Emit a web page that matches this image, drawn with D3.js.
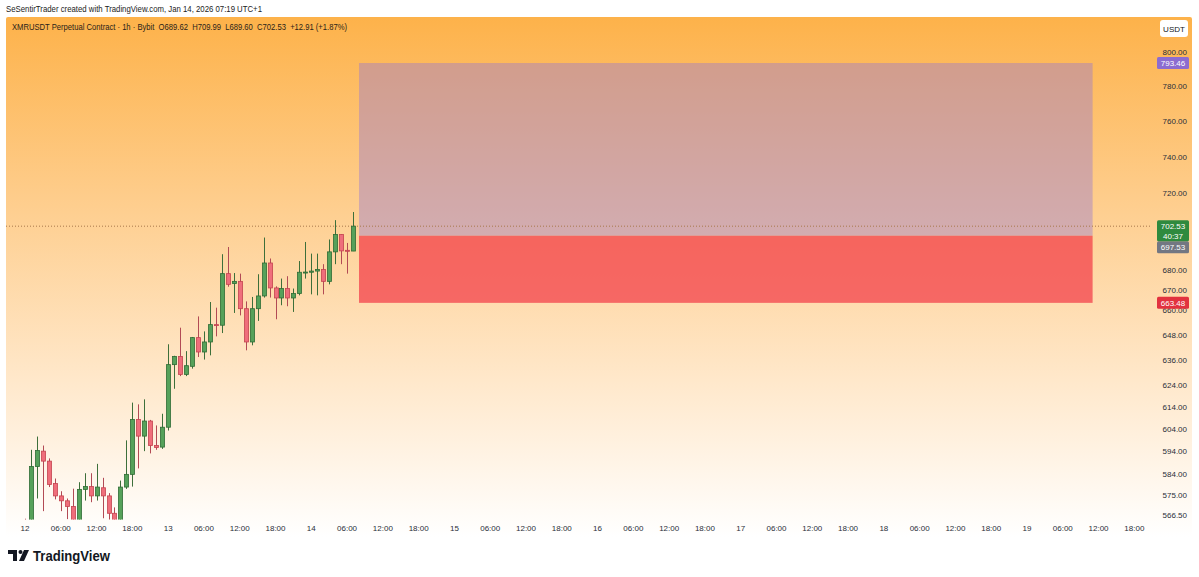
<!DOCTYPE html>
<html>
<head>
<meta charset="utf-8">
<script src="https://cdn.jsdelivr.net/npm/d3@7"></script>
<style>
  body { margin: 0; background: #fff; }
  svg { display: block; font-family: "Liberation Sans", Arial, sans-serif; }
</style>
</head>
<body>
<svg id="chart"></svg>
<script>
const svgWidth = 1199, svgHeight = 577

// hourly candles starting Jan 12 2026 00:00 (UTC+1 shown as-is)
const startHour = Date.UTC(2026, 0, 12, 0)
const opens  = [561, 560, 587.2, 594.0, 589.6, 579.8, 574.5, 572.4, 570.0, 563, 577.3, 578.5, 574.5, 578.0, 574.5, 567.1,
  563, 578.3, 583.8, 608.2, 600.7, 607.5, 596.5, 595.8, 604.7, 633.6, 637.5, 629.0, 632.8, 646.5, 639.6, 644.4,
  652.8, 652.5, 678.1, 673.1, 674.2, 660.6, 644.4, 660.6, 666.9, 683.5, 670.9, 665.9, 670.6, 665.9, 668.1, 678.4,
  678.8, 679.4, 680.2, 674.2, 689.2, 698.2, 690.0, 689.62]
const highs  = [564.8, 594.6, 600.5, 596.5, 590.8, 582.0, 576.5, 573.4, 577.6, 580.4, 584.3, 584.3, 588.4, 582.3, 575.7, 569.6,
  581.1, 598.8, 615.9, 615.1, 617.4, 608.0, 605.5, 610.8, 643.3, 637.8, 651.3, 640.0, 646.8, 656.8, 649.5, 663.9,
  661.1, 688.0, 691.7, 678.4, 678.1, 664.2, 666.4, 677.8, 696.6, 685.8, 671.7, 675.6, 676.8, 670.6, 684.5, 694.3,
  688.3, 688.3, 682.9, 695.6, 705.7, 698.3, 693.8, 709.99]
const lows   = [556, 555, 573.4, 568.0, 578.3, 573.0, 568.0, 564.6, 558, 560, 572.5, 571.8, 572.5, 565, 563, 560,
  560, 577.5, 578.5, 586.4, 594.0, 593.0, 594.6, 595.0, 603.2, 622.3, 628.2, 628.2, 631.7, 637.2, 636.0, 638.0,
  647.1, 648.7, 671.5, 658.5, 657.3, 640.4, 642.8, 654.6, 666.1, 666.1, 655.4, 662.3, 661.8, 659.0, 667.2, 675.6,
  667.7, 667.2, 667.7, 672.7, 682.9, 682.9, 678.1, 689.60]
const closes = [558, 587.2, 594.3, 589.6, 579.4, 574.5, 572.4, 570.0, 563, 577.3, 578.5, 574.5, 578.3, 574.5, 567.1, 563,
  578.3, 583.8, 608.2, 600.7, 607.5, 596.5, 595.6, 604.7, 633.6, 637.5, 629.0, 633.1, 646.5, 639.6, 644.4, 652.8,
  652.5, 678.1, 672.7, 674.2, 660.6, 644.4, 660.6, 666.9, 683.5, 670.9, 665.9, 670.6, 665.9, 668.1, 678.8, 678.9,
  679.4, 680.2, 674.2, 689.2, 698.2, 689.7, 689.6, 702.53]

const yTicks = [566.5, 575, 584, 594, 604, 614, 624, 636, 648, 660, 670, 680, 720, 740, 760, 780, 800]

// long position tool
const zoneStart = Date.UTC(2026, 0, 14, 8), zoneEnd = Date.UTC(2026, 0, 19, 11)
const targetPrice = 793.46, entryPrice = 697.53, stopPrice = 663.48
const lastPrice = 702.53, countdown = '40:37'

const headerLine = 'SeSentirTrader created with TradingView.com, Jan 14, 2026 07:19 UTC+1'
const legendLine = 'XMRUSDT Perpetual Contract · 1h · Bybit  O689.62  H709.99  L689.60  C702.53  +12.91 (+1.87%)'

let svg = d3.select('#chart').attr('width', svgWidth).attr('height', svgHeight)

let x = d3.scaleUtc()
  .domain([new Date(startHour), new Date(Date.UTC(2026, 0, 19, 0))])
  .range([25, 1027])
let y = d3.scaleLog().domain([566.5, 800]).range([514.7, 52])

let defs = svg.append('defs')
let grad = defs.append('linearGradient').attr('id', 'bg')
  .attr('x1', 0).attr('y1', 0).attr('x2', 0).attr('y2', 1)
grad.append('stop').attr('offset', '0%').attr('stop-color', '#fdb24a')
grad.append('stop').attr('offset', '35%').attr('stop-color', '#fecd8c')
grad.append('stop').attr('offset', '70%').attr('stop-color', '#ffe8cb')
grad.append('stop').attr('offset', '100%').attr('stop-color', '#ffffff')
defs.append('clipPath').attr('id', 'plotClip')
  .append('rect').attr('x', 6).attr('y', 17).attr('width', 1146).attr('height', 502.5)

svg.append('text').attr('x', 6).attr('y', 12).attr('font-size', 8.3).attr('fill', '#222')
  .attr('textLength', 256).attr('lengthAdjust', 'spacingAndGlyphs')
  .text(headerLine)

svg.append('rect').attr('x', 6).attr('y', 17).attr('width', 1186).attr('height', 520)
  .attr('rx', 2).attr('fill', 'url(#bg)')

svg.append('text').attr('x', 12).attr('y', 30).attr('font-size', 8.3).attr('fill', '#2a2218')
  .attr('xml:space', 'preserve')
  .attr('textLength', 335).attr('lengthAdjust', 'spacingAndGlyphs')
  .text(legendLine)

let plot = svg.append('g').attr('clip-path', 'url(#plotClip)')

// position zones
plot.append('rect')
  .attr('x', x(zoneStart)).attr('width', x(zoneEnd) - x(zoneStart))
  .attr('y', y(targetPrice)).attr('height', y(entryPrice) - y(targetPrice))
  .attr('fill', 'rgb(150,120,210)').attr('fill-opacity', 0.42)
plot.append('rect')
  .attr('x', x(zoneStart)).attr('width', x(zoneEnd) - x(zoneStart))
  .attr('y', y(entryPrice)).attr('height', y(stopPrice) - y(entryPrice))
  .attr('fill', 'rgb(242,54,69)').attr('fill-opacity', 0.7)

// last price dotted line
plot.append('line')
  .attr('x1', 6).attr('x2', 1157).attr('y1', y(lastPrice)).attr('y2', y(lastPrice))
  .attr('stroke', '#a8774a').attr('stroke-width', 1).attr('stroke-dasharray', '1,2')

// candles
const candles = opens.map((o, i) => ({
  t: startHour + i * 3600000, o, h: highs[i], l: lows[i], c: closes[i]
}))
let cg = plot.selectAll('g.candle').data(candles).enter().append('g').attr('class', 'candle')
cg.append('line')
  .attr('x1', d => Math.round(x(d.t)) + 0.5).attr('x2', d => Math.round(x(d.t)) + 0.5)
  .attr('y1', d => y(d.h)).attr('y2', d => y(d.l))
  .attr('stroke', d => d.c >= d.o ? '#3d6f3a' : '#b24a55').attr('stroke-width', 1)
cg.append('rect')
  .attr('x', d => Math.round(x(d.t)) - 1.5)
  .attr('width', 4)
  .attr('y', d => y(Math.max(d.o, d.c)))
  .attr('height', d => Math.max(1, Math.abs(y(d.o) - y(d.c))))
  .attr('fill', d => d.c >= d.o ? '#56a15a' : '#ef6e7b')
  .attr('stroke', d => d.c >= d.o ? '#2f6b35' : '#c4434f').attr('stroke-width', 0.8)

// price axis
let yAxis = svg.append('g')
yAxis.selectAll('text').data(yTicks).enter().append('text')
  .attr('x', 1187).attr('y', d => y(d) + 3)
  .attr('text-anchor', 'end').attr('font-size', 8).attr('fill', '#2a2e39')
  .text(d => d.toFixed(2))

// time axis
let xTicks = d3.utcHour.every(6).range(new Date(startHour), new Date(Date.UTC(2026, 0, 19, 19)))
svg.append('g').selectAll('text').data(xTicks).enter().append('text')
  .attr('x', d => x(d)).attr('y', 531)
  .attr('text-anchor', 'middle').attr('font-size', 8).attr('fill', '#2a2e39')
  .text(d => d.getUTCHours() === 0 ? d3.utcFormat('%-d')(d) : d3.utcFormat('%H:%M')(d))

// price labels
function priceTag(price, yc, h, fill, lines) {
  let g = svg.append('g')
  g.append('rect').attr('x', 1157).attr('y', yc - 6).attr('width', 32).attr('height', h)
    .attr('rx', 1.5).attr('fill', fill)
  lines.forEach((s, i) => {
    g.append('text').attr('x', 1173).attr('y', yc + 3 + i * 9.5)
      .attr('text-anchor', 'middle').attr('font-size', 8).attr('fill', '#fff').text(s)
  })
}
priceTag(targetPrice, y(targetPrice), 12, '#8c6cd0', [targetPrice.toFixed(2)])
priceTag(stopPrice, y(stopPrice), 12, '#e2323f', [stopPrice.toFixed(2)])
priceTag(entryPrice, y(lastPrice) + 21, 12, '#737782', [entryPrice.toFixed(2)])
priceTag(lastPrice, y(lastPrice), 21, '#2f8a3e', [lastPrice.toFixed(2), countdown])

// currency box
svg.append('rect').attr('x', 1160).attr('y', 20).attr('width', 28).attr('height', 17)
  .attr('rx', 3).attr('fill', '#fff')
svg.append('text').attr('x', 1174).attr('y', 31.5).attr('text-anchor', 'middle')
  .attr('font-size', 8).attr('fill', '#131722').text('USDT')

// TradingView wordmark
let logo = svg.append('g').attr('transform', 'translate(8,550)').attr('fill', '#131722')
logo.append('path').attr('d', 'M0,0 H9 V11 H5 V4 H0 Z')
logo.append('circle').attr('cx', 12.5).attr('cy', 2).attr('r', 2)
logo.append('path').attr('d', 'M16,0 H21 L16,11 H11 Z')
svg.append('text').attr('x', 33).attr('y', 561).attr('font-size', 14)
  .attr('textLength', 77).attr('lengthAdjust', 'spacingAndGlyphs')
  .attr('font-weight', 'bold').attr('fill', '#131722').text('TradingView')
</script>
</body>
</html>
